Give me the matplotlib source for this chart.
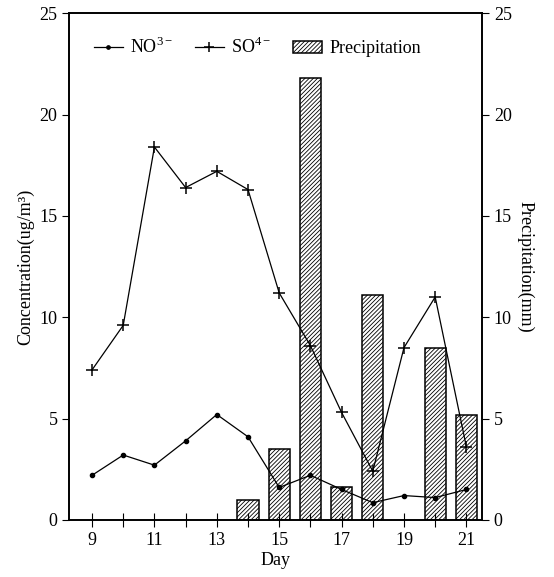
import numpy as np
import matplotlib
matplotlib.use('Agg')
import matplotlib.pyplot as plt

plt.rcParams['font.family'] = ['Liberation Serif', 'DejaVu Serif']
plt.rcParams['mathtext.fontset'] = 'custom'
plt.rcParams['mathtext.rm'] = 'Liberation Serif'
plt.rcParams['hatch.linewidth'] = 0.6

# 數據
days = [9, 10, 11, 12, 13, 14, 15, 16, 17, 18, 19, 20, 21]
no3 = [2.2, 3.2, 2.7, 3.9, 5.2, 4.1, 1.6, 2.2, 1.5, 0.85, 1.2, 1.1, 1.5]
so4 = [7.4, 9.6, 18.4, 16.4, 17.2, 16.3, 11.2, 8.6, 5.3, 2.4, 8.5, 11.0, 3.6]
rain_days = [14, 15, 16, 17, 18, 20, 21]
rain = [1.0, 3.5, 21.8, 1.6, 11.1, 8.5, 5.2]

fig = plt.figure(figsize=(5.54, 5.77), dpi=100)
ax = fig.add_axes([0.125, 0.099, 0.745, 0.878])
ax2 = ax.twinx()

# 降水量柱狀圖
ax2.bar(rain_days, rain, width=0.68, color='white', edgecolor='black',
        hatch='////////', linewidth=1.1, label='Precipitation', zorder=1)

# 濃度折線
ax.plot(days, no3, color='black', lw=0.9, marker='o', ms=3, label='NO$^{3-}$', zorder=5)
ax.plot(days, so4, color='black', lw=0.9, marker='+', ms=9, mew=1.1, label='SO$^{4-}$', zorder=5)

ax.set_zorder(ax2.get_zorder() + 1)
ax.patch.set_visible(False)

ax.set_xlim(8.27, 21.5)
ax.set_ylim(0, 25)
ax2.set_ylim(0, 25)
ax.set_yticks([0, 5, 10, 15, 20, 25])
ax2.set_yticks([0, 5, 10, 15, 20, 25])
ax.set_xticks(days)
ax.set_xticklabels([str(d) if d % 2 == 1 else '' for d in days])

ax.tick_params(axis='x', direction='inout', length=10, labelsize=13, pad=4)
ax.tick_params(axis='y', direction='out', length=5, labelsize=13)
ax2.tick_params(axis='y', direction='out', length=5, labelsize=13)

ax.set_xlabel('Day', fontsize=13, labelpad=2)
ax.set_ylabel('Concentration(ug/m³)', fontsize=13, labelpad=4)
ax2.set_ylabel('Precipitation(mm)', fontsize=13, rotation=270, labelpad=16)

for a in (ax, ax2):
    for s in a.spines.values():
        s.set_linewidth(1.2)

h1, l1 = ax.get_legend_handles_labels()
h2, l2 = ax2.get_legend_handles_labels()
ax.legend(h1 + h2, l1 + l2, loc='upper left', bbox_to_anchor=(0.02, 0.985),
          ncol=3, frameon=False, fontsize=13, handlelength=1.6,
          handletextpad=0.4, columnspacing=1.2, markerscale=0.8)

fig.savefig('out.png', dpi=100)
